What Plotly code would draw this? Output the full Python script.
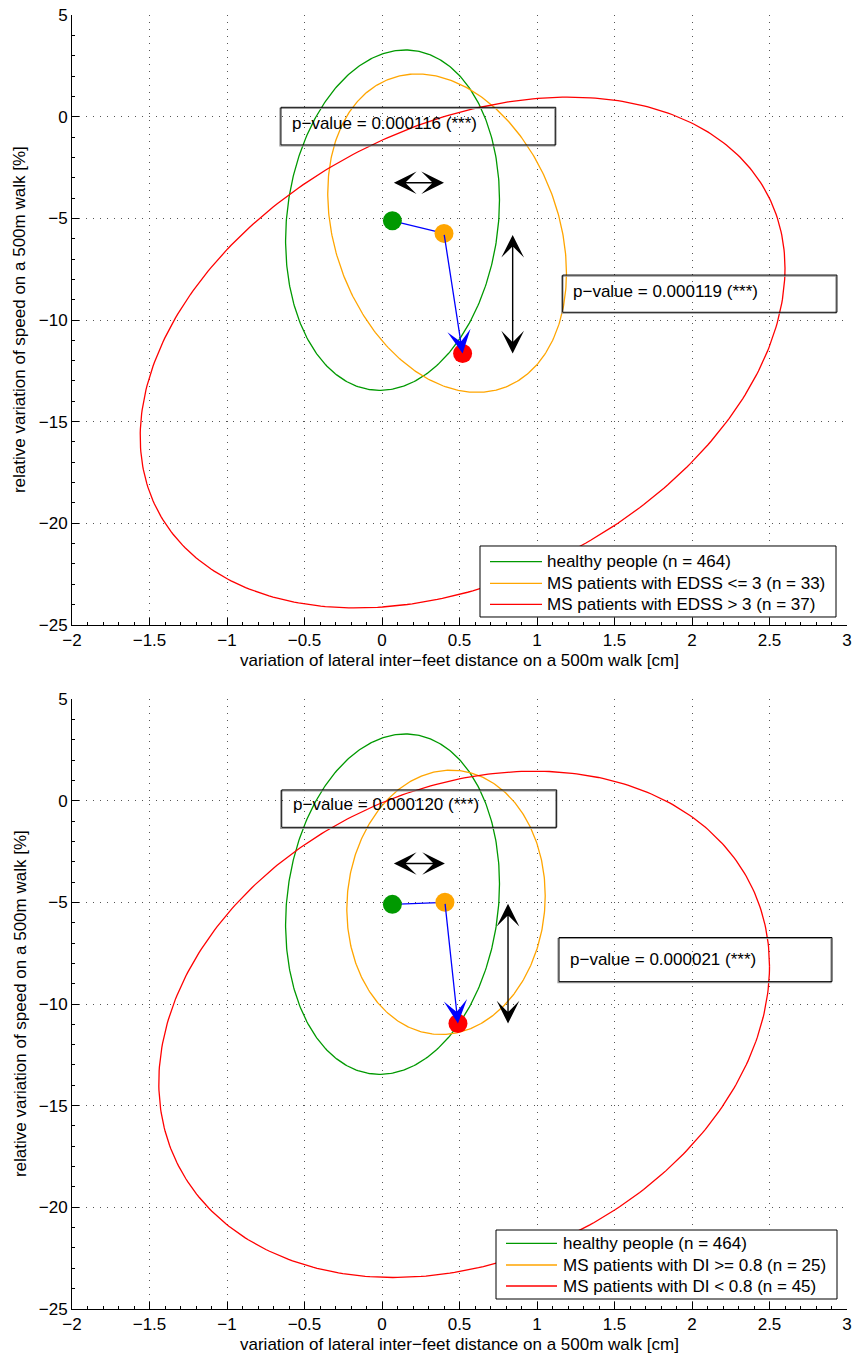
import numpy as np
import plotly.graph_objects as go

# ---------------- data ----------------
x_tickvals = [-2, -1.5, -1, -0.5, 0, 0.5, 1, 1.5, 2, 2.5, 3]
x_ticktext = ["−2", "−1.5", "−1", "−0.5", "0", "0.5", "1", "1.5", "2", "2.5", "3"]
y_tickvals = [-25, -20, -15, -10, -5, 0, 5]
y_ticktext = ["−25", "−20", "−15", "−10", "−5", "0", "5"]

names_top = ["healthy people (n = 464)",
             "MS patients with EDSS <= 3 (n = 33)",
             "MS patients with EDSS > 3 (n = 37)"]
names_bottom = ["healthy people (n = 464)",
                "MS patients with DI >= 0.8 (n = 25)",
                "MS patients with DI < 0.8 (n = 45)"]
colors = ["#009900", "#FFA500", "#FF0000"]

# group means (points)
mean_x_top = [0.067, 0.40, 0.52]
mean_y_top = [-5.12, -5.74, -11.65]
mean_x_bottom = [0.067, 0.406, 0.49]
mean_y_bottom = [-5.10, -5.00, -10.96]

# ellipse parameters: centre, half-width (x), half-height (y), correlation
ell_cx_top = [0.068, 0.42, 0.52]
ell_cy_top = [-5.09, -5.73, -11.60]
ell_hw_top = [0.69, 0.77, 2.08]
ell_hh_top = [8.37, 7.83, 12.56]
ell_rho_top = [0.12, -0.25, 0.33]

ell_cx_bottom = [0.068, 0.413, 0.53]
ell_cy_bottom = [-5.09, -5.00, -11.00]
ell_hw_bottom = [0.69, 0.64, 1.97]
ell_hh_bottom = [8.37, 6.50, 12.45]
ell_rho_bottom = [0.12, 0.05, 0.23]

pvalues_top = ["p−value = 0.000116 (***)", "p−value = 0.000119 (***)"]
pvalues_bottom = ["p−value = 0.000120 (***)", "p−value = 0.000021 (***)"]

xlabel = "variation of lateral inter−feet distance on a 500m walk [cm]"
ylabel = "relative variation of speed on a 500m walk [%]"

# ---------------- figure ----------------
FONT = "Liberation Sans, Arial, Helvetica, sans-serif"
TXT = dict(family=FONT, size=17, color="black")
fig = go.Figure()


def ellipse(cx, cy, hw, hh, rho):
    t = np.linspace(0, 2 * np.pi, 401)
    phi = np.arccos(rho)
    return cx + hw * np.cos(t), cy + hh * np.cos(t - phi)


def add_panel(xa, ya, names, mx, my, ecx, ecy, ehw, ehh, erho,
              pv, boxes, txtpos, harrow_y, varrow_x, leg):
    for i in range(3):
        ex, ey = ellipse(ecx[i], ecy[i], ehw[i], ehh[i], erho[i])
        fig.add_trace(go.Scatter(x=ex, y=ey, mode="lines", name=names[i],
                                 line=dict(color=colors[i], width=1.3),
                                 xaxis=xa, yaxis=ya, showlegend=False,
                                 hoverinfo="skip"))
    # blue line green -> orange
    fig.add_trace(go.Scatter(x=[mx[0], mx[1]], y=[my[0], my[1]], mode="lines",
                             line=dict(color="#0000FF", width=1.3),
                             xaxis=xa, yaxis=ya, showlegend=False, hoverinfo="skip"))
    for i in range(3):
        fig.add_trace(go.Scatter(x=[mx[i]], y=[my[i]], mode="markers",
                                 marker=dict(color=colors[i], size=19, line=dict(width=0)),
                                 xaxis=xa, yaxis=ya, showlegend=False, hoverinfo="skip"))
    # blue arrow orange -> red
    fig.add_annotation(x=mx[2], y=my[2], ax=mx[1], ay=my[1], xref=xa, yref=ya,
                       axref=xa, ayref=ya, text="", showarrow=True,
                       arrowhead=3, arrowsize=3.0, arrowwidth=1.3, arrowcolor="#0000FF",
                       standoff=0)
    # black double arrows
    for (x0, y0, x1, y1) in [(mx[0], harrow_y, mx[1], harrow_y),
                             (varrow_x, my[1], varrow_x, my[2])]:
        fig.add_annotation(x=x1, y=y1, ax=x0, ay=y0, xref=xa, yref=ya,
                           axref=xa, ayref=ya, text="", showarrow=True,
                           arrowhead=3, startarrowhead=3, arrowside="end+start",
                           arrowsize=2.7, startarrowsize=2.7, arrowwidth=1.4,
                           arrowcolor="#000000", standoff=0, startstandoff=0)
    # p-value boxes
    for k in range(2):
        x0, x1, y0, y1 = boxes[k]
        fig.add_shape(type="rect", xref=xa, yref=ya,
                      x0=x0 - 1.0 / 155, x1=x1 - 1.0 / 155,
                      y0=y0 - 1.0 / 20.33, y1=y1 - 1.0 / 20.33,
                      line=dict(color="#9a9a9a", width=1.2))
        fig.add_shape(type="rect", xref=xa, yref=ya, x0=x0, x1=x1, y0=y0, y1=y1,
                      line=dict(color="black", width=1))
        fig.add_annotation(x=txtpos[k][0], y=txtpos[k][1], xref=xa, yref=ya,
                           text=pv[k], showarrow=False, xanchor="left", yanchor="middle",
                           font=TXT)
    # legend (drawn in axis-domain coordinates)
    lx0, lx1, ly0, ly1, sx0, sx1, tx, rows = leg
    dx = xa + " domain"
    dy = ya + " domain"
    fig.add_shape(type="rect", xref=dx, yref=dy, x0=lx0, x1=lx1, y0=ly0, y1=ly1,
                  line=dict(color="black", width=1), fillcolor="white", layer="above")
    for i in range(3):
        fig.add_shape(type="line", xref=dx, yref=dy, x0=sx0, x1=sx1, y0=rows[i], y1=rows[i],
                      line=dict(color=colors[i], width=1.3), layer="above")
        fig.add_annotation(x=tx, y=rows[i], xref=dx, yref=dy, text=names[i],
                           showarrow=False, xanchor="left", yanchor="middle", font=TXT)
    # axis titles
    fig.add_annotation(x=0.5, y=-0.058, xref=dx, yref=dy, text=xlabel, showarrow=False,
                       xanchor="center", yanchor="middle", font=TXT)
    fig.add_annotation(x=-0.067, y=0.5, xref=dx, yref=dy, text=ylabel, showarrow=False,
                       xanchor="center", yanchor="middle", textangle=-90, font=TXT)


def fx(px):
    return (px - 72) / 775.0


add_panel("x", "y", names_top, mean_x_top, mean_y_top,
          ell_cx_top, ell_cy_top, ell_hw_top, ell_hh_top, ell_rho_top,
          pvalues_top,
          [(-0.652, 1.121, -1.39, 0.46), (1.166, 2.935, -9.62, -7.79)],
          [(-0.594, -0.35), (1.22, -8.60)],
          -3.25, 0.843,
          (fx(480), fx(836), (625 - 617) / 610, (625 - 546) / 610,
           fx(490), fx(542), fx(545),
           [(625 - 561.7) / 610, (625 - 583.3) / 610, (625 - 604.3) / 610]))
add_panel("x2", "y2", names_bottom, mean_x_bottom, mean_y_bottom,
          ell_cx_bottom, ell_cy_bottom, ell_hw_bottom, ell_hh_bottom, ell_rho_bottom,
          pvalues_bottom,
          [(-0.647, 1.127, -1.31, 0.53), (1.142, 2.903, -8.90, -6.73)],
          [(-0.589, -0.17), (1.20, -7.80)],
          -3.09, 0.813,
          (fx(496), fx(837), (1309 - 1299) / 610, (1309 - 1230) / 610,
           fx(506), fx(557), fx(561),
           [(1309 - 1243.3) / 610, (1309 - 1265) / 610, (1309 - 1286) / 610]))

axis_common = dict(
    showline=True, linecolor="black", linewidth=1, mirror=False,
    ticks="inside", ticklen=7, tickcolor="black", tickwidth=1,
    showgrid=True, gridcolor="#555555", gridwidth=1, griddash="1px,6px",
    zeroline=False, tickfont=TXT, automargin=False, ticklabeloverflow="allow",
)
xaxis_common = dict(axis_common, range=[-2, 3], tickvals=x_tickvals, ticktext=x_ticktext,
                    minor=dict(dtick=0.1, ticklen=3, tickcolor="black", showgrid=False,
                               ticks="inside"))
yaxis_common = dict(axis_common, range=[-25, 5], tickvals=y_tickvals, ticktext=y_ticktext,
                    minor=dict(dtick=1, ticklen=3, tickcolor="black", showgrid=False,
                               ticks="inside"))

fig.update_layout(
    width=855, height=1358,
    margin=dict(l=72, r=8, t=15, b=49),
    paper_bgcolor="white", plot_bgcolor="white",
    font=TXT,
    xaxis=dict(xaxis_common, domain=[0, 1], anchor="y"),
    yaxis=dict(yaxis_common, domain=[0.5286, 1], anchor="x"),
    xaxis2=dict(xaxis_common, domain=[0, 1], anchor="y2"),
    yaxis2=dict(yaxis_common, domain=[0, 0.4714], anchor="x2"),
    showlegend=False,
)

# remove the page's default body margin so the figure fills the window exactly
fig.write_html("out.html",
               config={"displayModeBar": False},
               post_script="document.body.style.margin='0';"
                           "document.body.style.overflow='hidden';")
